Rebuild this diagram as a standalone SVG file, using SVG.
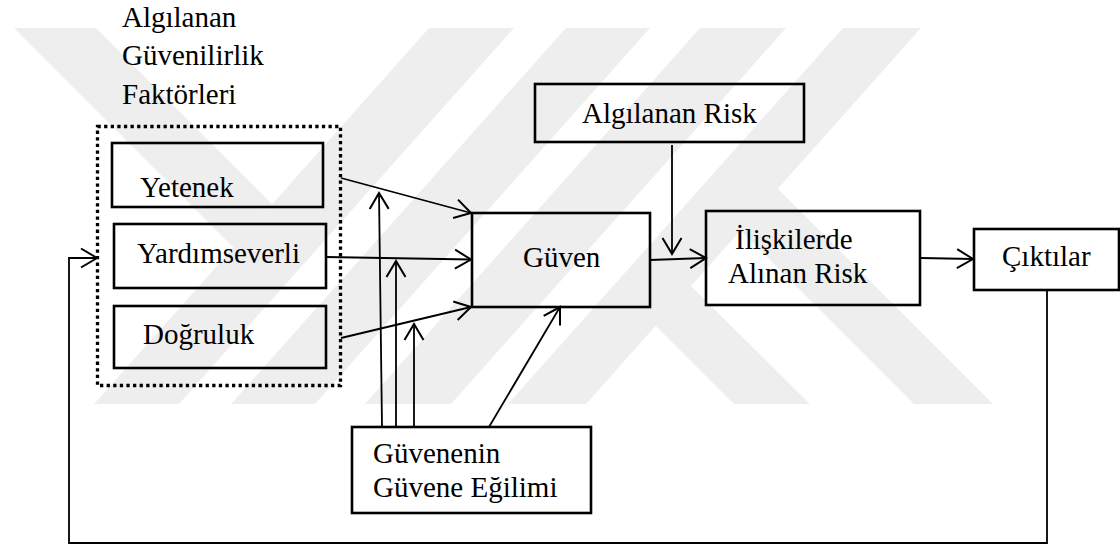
<svg xmlns="http://www.w3.org/2000/svg" width="1120" height="553" viewBox="0 0 1120 553">
<style>
.box{fill:none;stroke:#000;stroke-width:2.6}
.dot{fill:none;stroke:#000;stroke-width:3.3;stroke-dasharray:3.3 3.3}
.t{font-family:"Liberation Serif","Times New Roman",serif;font-size:29px;fill:#000}
.ln{fill:none;stroke:#000;stroke-width:1.8}
.wm{fill:#eeeeee;stroke:none}
</style>
<defs>
<marker id="ah" markerUnits="userSpaceOnUse" markerWidth="22" markerHeight="26" viewBox="-19 -13 22 26" refX="0" refY="0" orient="auto">
<path d="M-16,-9.5 L0,0 L-16,9.5" fill="none" stroke="#000" stroke-width="2"/>
</marker>
</defs>
<rect width="1120" height="553" fill="#fff"/>
<g id="watermark">
<polygon class="wm" points="14,28 96,28 272,204 234,248"/>
<polygon class="wm" points="429,28 514,28 179,404 94,404"/>
<polygon class="wm" points="566,28 650,28 315,404 231,404"/>
<polygon class="wm" points="700,28 786,28 451,404 365,404"/>
<polygon class="wm" points="843,28 921,28 586,404 508,404"/>
<polygon class="wm" points="699,189 778,189 993,404 914,404"/>
<polygon class="wm" points="615,285 691,286 810,404 734,404"/>
</g>
<g id="connectors">
<line class="ln" x1="341" y1="178" x2="471" y2="213" marker-end="url(#ah)"/>
<line class="ln" x1="326" y1="257" x2="471" y2="259.5" marker-end="url(#ah)"/>
<line class="ln" x1="341" y1="338" x2="471" y2="307" marker-end="url(#ah)"/>
<line class="ln" x1="382" y1="426" x2="379" y2="193" marker-end="url(#ah)"/>
<line class="ln" x1="396" y1="426" x2="396" y2="261" marker-end="url(#ah)"/>
<line class="ln" x1="414" y1="426" x2="414" y2="324" marker-end="url(#ah)"/>
<line class="ln" x1="489" y1="427" x2="560" y2="307" marker-end="url(#ah)"/>
<line class="ln" x1="672" y1="145" x2="672" y2="254" marker-end="url(#ah)"/>
<line class="ln" x1="650" y1="260" x2="706" y2="258" marker-end="url(#ah)"/>
<line class="ln" x1="921" y1="258" x2="973" y2="259" marker-end="url(#ah)"/>
<polyline class="ln" points="1047,290 1047,543 69,543 69,258 97,258" marker-end="url(#ah)"/>
</g>
<g id="factors-group">
<rect class="dot" x="97.5" y="126.5" width="243" height="259"/>
<text class="t" x="122" y="27">Algılanan</text>
<text class="t" x="122" y="65">Güvenilirlik</text>
<text class="t" x="122" y="104">Faktörleri</text>
</g>
<g id="yetenek">
<rect class="box" x="112" y="143" width="211" height="64"/>
<text class="t" x="140" y="197">Yetenek</text>
</g>
<g id="yardimseverli">
<rect class="box" x="114" y="224" width="212" height="64"/>
<text class="t" x="137" y="263">Yardımseverli</text>
</g>
<g id="dogruluk">
<rect class="box" x="114" y="306" width="212" height="62"/>
<text class="t" x="143" y="344">Doğruluk</text>
</g>
<g id="guven">
<rect class="box" x="472" y="213" width="178" height="94"/>
<text class="t" x="523" y="267">Güven</text>
</g>
<g id="algilanan-risk">
<rect class="box" x="535" y="84" width="269" height="58"/>
<text class="t" x="582" y="123">Algılanan Risk</text>
</g>
<g id="iliskilerde">
<rect class="box" x="706" y="211" width="214" height="94"/>
<text class="t" x="735" y="249">İlişkilerde</text>
<text class="t" x="728" y="283">Alınan Risk</text>
</g>
<g id="ciktilar">
<rect class="box" x="974" y="229" width="145" height="61"/>
<text class="t" x="1002" y="266">Çıktılar</text>
</g>
<g id="guvenenin">
<rect class="box" x="352" y="427" width="239" height="86"/>
<text class="t" x="373" y="463">Güvenenin</text>
<text class="t" x="373" y="497">Güvene Eğilimi</text>
</g>
</svg>
